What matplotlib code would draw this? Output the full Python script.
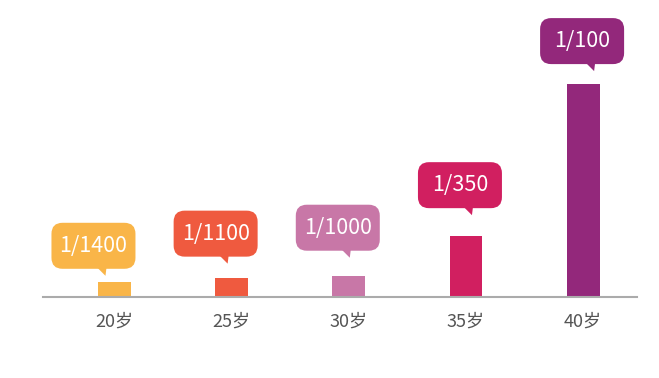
import matplotlib.pyplot as plt
import matplotlib.transforms as mtransforms
from matplotlib.patches import FancyBboxPatch, Polygon

plt.rcParams['font.family'] = ['Noto Sans CJK SC', 'DejaVu Sans']

ages = ['20岁', '25岁', '30岁', '35岁', '40岁']
odds = [1400, 1100, 1000, 350, 100]
labels = ['1/1400', '1/1100', '1/1000', '1/350', '1/100']
risk = [1 / n for n in odds]

colors = ['#F9B548', '#EF5A3F', '#C877A7', '#D11F60', '#93287B']
# bubble offsets in pixels (box centre x vs bar centre, gap above bar top)
bubble_dx = [-21, -16, -11, -6, -1]
bubble_gap = [13, 21, 25, 28, 20]

fig = plt.figure(figsize=(6.59, 3.78), dpi=100)
ax = fig.add_axes([43 / 659, (378 - 297) / 378, 594 / 659, 287 / 378])

x = list(range(len(ages)))
ax.bar(x, risk, width=0.28, color=colors, zorder=2)
ax.set_xlim(-0.61, 4.46)
ax.set_ylim(0, 0.01348)

for s in ['top', 'right', 'left']:
    ax.spines[s].set_visible(False)
ax.spines['bottom'].set_color('#ABABAB')
ax.spines['bottom'].set_linewidth(1.5)
ax.set_yticks([])
ax.set_xticks(x)
ax.set_xticklabels(ages, fontsize=13, color='#555555')
ax.tick_params(axis='x', length=0, pad=11)

bw, bh = 0.84, 0.46  # box size in inches (= px/100)
for i in x:
    trans = fig.dpi_scale_trans + mtransforms.ScaledTranslation(i, risk[i], ax.transData)
    cx = bubble_dx[i] / 100
    y0 = bubble_gap[i] / 100
    box = FancyBboxPatch((cx - bw / 2, y0), bw, bh,
                         boxstyle='round,pad=0,rounding_size=0.11',
                         fc=colors[i], ec='none', transform=trans, clip_on=False)
    ax.add_patch(box)
    tail = Polygon([(cx + 0.04, y0 + 0.01), (cx + 0.13, y0 + 0.01), (cx + 0.12, y0 - 0.07)],
                   closed=True, fc=colors[i], ec='none', transform=trans, clip_on=False)
    ax.add_patch(tail)
    ax.text(cx, y0 + bh / 2, labels[i], transform=trans, ha='center', va='center',
            color='white', fontsize=15.5, fontweight='light')

fig.savefig('out.png', dpi=100)
